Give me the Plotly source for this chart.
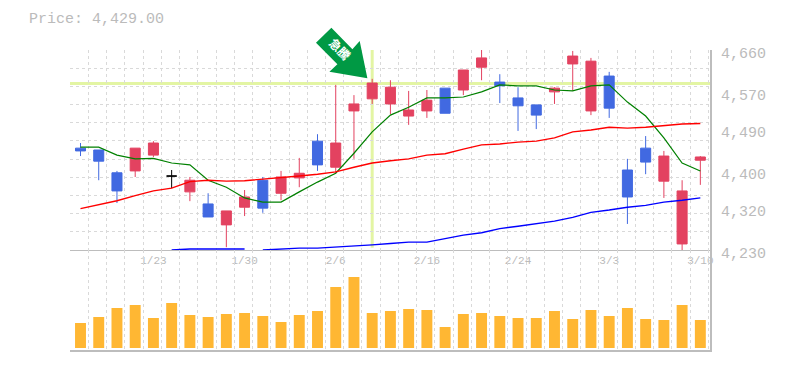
import plotly.graph_objects as go

dates = ["1/19","1/20","1/21","1/22","1/23","1/26","1/27","1/28","1/29","1/30",
         "2/2","2/3","2/4","2/5","2/6","2/9","2/10","2/12","2/13","2/16",
         "2/17","2/18","2/19","2/20","2/24","2/25","2/26","2/27","3/2","3/3",
         "3/4","3/5","3/6","3/9","3/10"]
tick_dates = ["1/23","1/30","2/6","2/16","2/24","3/3","3/10"]
price_ticks = [4660, 4570, 4490, 4400, 4320, 4230]
price_now = 4429

opens  = [4449,4445,4396,4400,4434,4389,4355,4329,4284,4322,4380,4352,4385,4464,4408,4529,4555,4544,4518,4529,4578,4574,4623,4591,4557,4542,4570,4630,4529,4604,4402,4449,4378,4243,4423]
highs  = [4460,4445,4400,4449,4464,4402,4387,4352,4314,4359,4387,4400,4428,4479,4585,4563,4598,4595,4572,4574,4578,4617,4660,4608,4580,4542,4580,4658,4643,4613,4426,4475,4443,4380,4432]
lows   = [4432,4380,4331,4387,4430,4363,4335,4301,4236,4303,4310,4337,4365,4400,4395,4426,4544,4522,4499,4514,4524,4563,4595,4546,4486,4490,4544,4572,4520,4514,4286,4393,4342,4230,4370]
closes = [4443,4421,4357,4449,4460,4389,4380,4301,4314,4344,4320,4387,4395,4413,4460,4544,4589,4580,4531,4552,4524,4617,4643,4583,4540,4520,4578,4647,4636,4535,4344,4419,4432,4357,4430]

ma_short = [4451,4451,4434,4426,4427,4417,4413,4380,4365,4342,4333,4333,4355,4376,4395,4438,4484,4520,4537,4557,4557,4559,4570,4585,4583,4583,4574,4572,4583,4585,4548,4518,4471,4417,4400]
ma_mid   = [4319,4327,4336,4347,4357,4363,4377,4380,4378,4379,4382,4385,4389,4393,4398,4408,4417,4422,4426,4434,4437,4447,4456,4458,4462,4464,4471,4484,4488,4494,4492,4494,4497,4501,4502]
ma_long  = [None,None,None,None,None,4230,4232,4232,4232,4232,4230,4232,4234,4234,4236,4238,4241,4244,4247,4247,4255,4262,4267,4276,4281,4286,4292,4300,4311,4316,4322,4326,4333,4337,4342]
volume   = [25,31,40,43,30,45,33,31,34,35,32,26,33,37,61,71,35,37,39,38,21,34,35,32,30,30,37,29,38,32,40,29,28,43,28]

signal_index = 16
signal_price = 4588
signal_text = "急騰"

UP, DOWN, VOL = "#E34260", "#4169E1", "#FFB733"
GRID, AXIS, TXT, HL = "#D9D9D9", "#BDBDBD", "#BBBBBB", "#E3F5A3"
MONO = "Liberation Mono"
xs = list(range(len(dates)))
tickvals = [dates.index(d) for d in tick_dates]

flat = [i for i in xs if opens[i] == closes[i]]
solid = [i for i in xs if i not in flat]
pick = lambda a, idx: [a[i] for i in idx]

fig = go.Figure()
fig.add_trace(go.Candlestick(
    x=solid, open=pick(opens, solid), high=pick(highs, solid),
    low=pick(lows, solid), close=pick(closes, solid),
    increasing=dict(line=dict(color=UP, width=1), fillcolor=UP),
    decreasing=dict(line=dict(color=DOWN, width=1), fillcolor=DOWN),
    whiskerwidth=0, xaxis="x", yaxis="y"))
fig.add_trace(go.Candlestick(
    x=flat, open=pick(opens, flat), high=pick(highs, flat),
    low=pick(lows, flat), close=pick(closes, flat),
    increasing=dict(line=dict(color="#000000", width=1)),
    decreasing=dict(line=dict(color="#000000", width=1)),
    whiskerwidth=0, xaxis="x", yaxis="y"))
fig.add_trace(go.Scatter(x=xs, y=ma_short, mode="lines", line=dict(color="#008000", width=1.2), xaxis="x", yaxis="y"))
fig.add_trace(go.Scatter(x=xs, y=ma_mid, mode="lines", line=dict(color="#FF0000", width=1.4), xaxis="x", yaxis="y"))
fig.add_trace(go.Scatter(x=xs[:10], y=ma_long[:10], mode="lines", line=dict(color="#0000FF", width=1.4), xaxis="x", yaxis="y"))
fig.add_trace(go.Scatter(x=xs[10:], y=ma_long[10:], mode="lines", line=dict(color="#0000FF", width=1.4), xaxis="x", yaxis="y"))
fig.add_trace(go.Bar(x=xs, y=volume, marker=dict(color=VOL, line=dict(width=0)), width=0.6, xaxis="x2", yaxis="y2"))

xbase = dict(range=[-0.576, 34.53], showgrid=False, zeroline=False, automargin=False,
             rangeslider=dict(visible=False),
             minor=dict(tick0=-0.56, dtick=1, showgrid=True, gridcolor=GRID, griddash="3px,3px", gridwidth=1, ticklen=0))
ybase = dict(showgrid=False, zeroline=False, fixedrange=True, automargin=False)

arrow_path = "M -40.8 55.8 L -56.2 40.8 L -34.8 19.2 L -42.8 11.8 L -4.8 5.2 L -12.5 42.5 L -19.8 34.2 Z"
# the arrow's anchor sits on the signal price, expressed in paper units so it may rise above the plot
signal_paper_y = 1/3 + (2/3) * (signal_price - 4230) / (4660 - 4230)

fig.update_layout(
    width=769, height=354, autosize=False,
    margin=dict(l=62, r=67, t=42, b=12),
    paper_bgcolor="white", plot_bgcolor="white",
    showlegend=False, boxgap=0.45, boxgroupgap=0, boxmode="overlay",
    font=dict(family=MONO, color=TXT),
    xaxis=dict(xbase, anchor="y", domain=[0, 1], tickmode="array", tickvals=tickvals, ticktext=tick_dates,
               tickfont=dict(size=11, color=TXT), ticks="", showline=True, linecolor=AXIS, linewidth=1),
    xaxis2=dict(xbase, anchor="y2", domain=[0, 1], showticklabels=False, ticks="", showline=True, linecolor=AXIS, linewidth=2, matches="x"),
    yaxis=dict(ybase, domain=[1/3, 1], range=[4230, 4660], side="right", anchor="x",
               tickmode="array", tickvals=price_ticks, ticktext=[f"{v:,}" for v in price_ticks],
               tickfont=dict(size=15, color=TXT), ticks="", ticklabelshift=3, ticklabelstandoff=6,
               showline=True, linecolor=AXIS, linewidth=2,
               minor=dict(tick0=4230, dtick=430/11, showgrid=True, gridcolor=GRID, griddash="3px,3px", gridwidth=1, ticklen=0)),
    yaxis2=dict(ybase, domain=[0, 1/3], range=[-2, 98], side="right", anchor="x2", showticklabels=False,
                ticks="", showline=True, linecolor=AXIS, linewidth=2),
    shapes=[
        dict(type="line", layer="below", xref="paper", x0=0, x1=1, yref="y", y0=signal_price, y1=signal_price, line=dict(color=HL, width=3)),
        dict(type="line", layer="below", xref="x", x0=signal_index, x1=signal_index, yref="y", y0=4235, y1=4660, line=dict(color=HL, width=3)),
        dict(type="path", layer="above", xref="x", yref="paper", xsizemode="pixel", ysizemode="pixel",
             xanchor=signal_index, yanchor=signal_paper_y, path=arrow_path,
             fillcolor="#009944", line=dict(width=0)),
    ],
    annotations=[
        dict(text=f"Price: {price_now:,}.00", xref="paper", yref="paper", x=-43/640, y=1+(50-19)/300, xanchor="left", yanchor="middle",
             showarrow=False, font=dict(size=15, color=TXT, family=MONO)),
        dict(text=f"<b>{signal_text}</b>", xref="x", yref="y", x=signal_index, y=signal_price, showarrow=False, xshift=-32, yshift=34.5, textangle=45,
             font=dict(size=12, color="white", family="Noto Sans CJK JP")),
    ],
)
fig.write_html("out.html")
